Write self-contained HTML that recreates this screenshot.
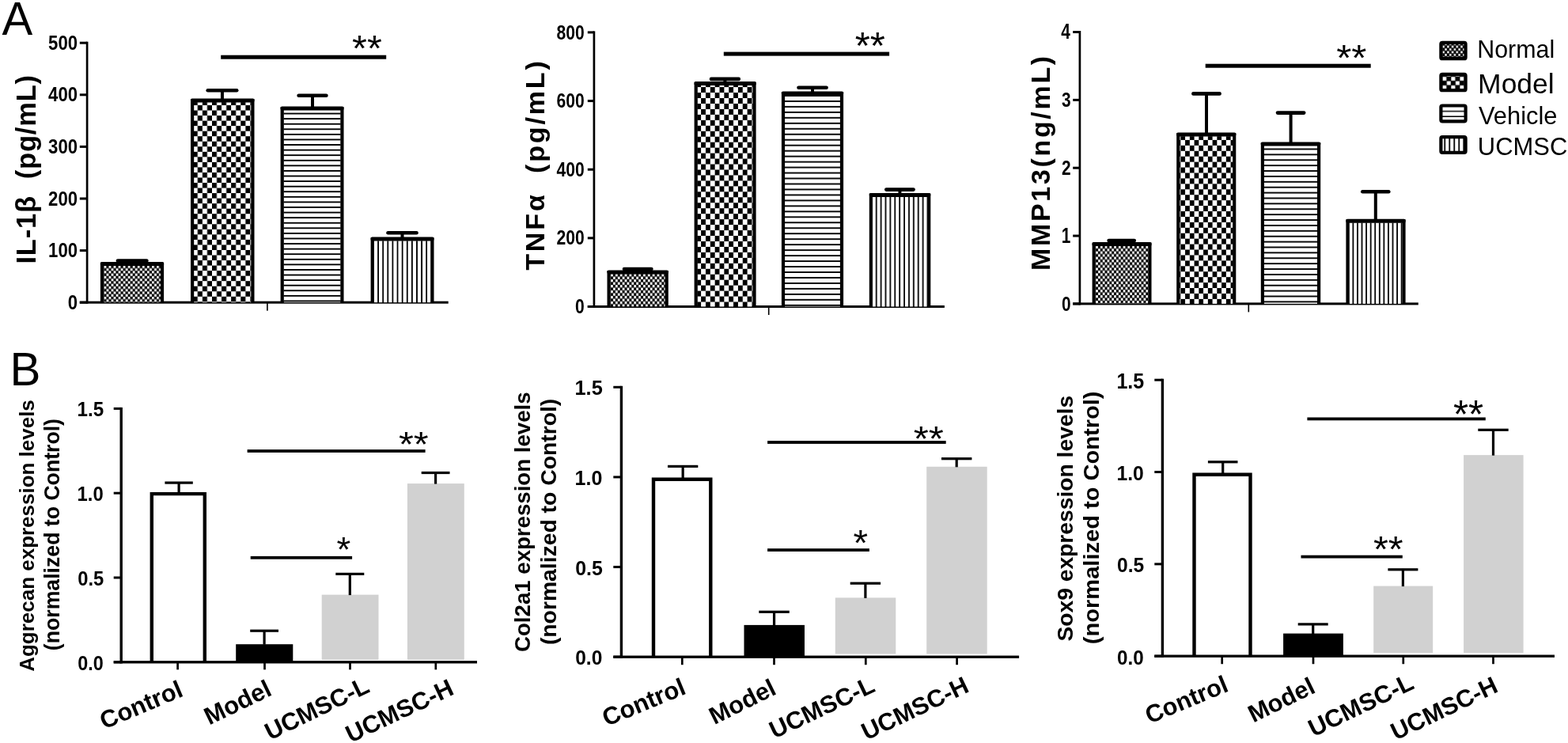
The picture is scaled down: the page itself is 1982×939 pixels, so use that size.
<!DOCTYPE html>
<html lang="en">
<head>
<meta charset="utf-8">
<title>Figure: cytokine levels and cartilage gene expression</title>
<style>
html,body{margin:0;padding:0;background:#fff;}
body{width:1982px;height:939px;overflow:hidden;}
svg{display:block;font-family:"Liberation Sans",Arial,Helvetica,sans-serif;}
svg text{fill:#000;}
</style>
</head>
<body>
<svg width="1982" height="939" viewBox="0 0 1982 939">
<defs>
<pattern id="p1" patternUnits="userSpaceOnUse" x="131.4" y="335.75" width="6.05" height="6.53"><rect width="6.05" height="6.53" fill="#000"/><rect x="0.1" y="0.11" width="2.83" height="3.05" fill="#fff"/><rect x="3.12" y="3.37" width="2.83" height="3.05" fill="#fff"/></pattern>
<pattern id="p2" patternUnits="userSpaceOnUse" x="243.75" y="119.93" width="12.1" height="13.07"><rect width="12.1" height="13.07" fill="#000"/><rect x="0" y="0" width="6.05" height="6.53" fill="#fff"/><rect x="6.05" y="6.53" width="6.05" height="6.53" fill="#fff"/></pattern>
<pattern id="p3" patternUnits="userSpaceOnUse" x="358.5" y="137.92" width="20" height="6.58"><rect width="20" height="6.58" fill="#fff"/><rect y="4.68" width="20" height="1.9" fill="#000"/></pattern>
<pattern id="p4" patternUnits="userSpaceOnUse" x="472.86" y="304.3" width="6.11" height="20"><rect width="6.11" height="20" fill="#fff"/><rect x="4.31" width="1.8" height="20" fill="#000"/></pattern>
<pattern id="p5" patternUnits="userSpaceOnUse" x="772" y="346.05" width="5.85" height="6.96"><rect width="5.85" height="6.96" fill="#000"/><rect x="0.1" y="0.11" width="2.73" height="3.25" fill="#fff"/><rect x="3.02" y="3.59" width="2.73" height="3.25" fill="#fff"/></pattern>
<pattern id="p6" patternUnits="userSpaceOnUse" x="880.26" y="96.18" width="11.7" height="13.92"><rect width="11.7" height="13.92" fill="#000"/><rect x="0" y="0" width="5.85" height="6.96" fill="#fff"/><rect x="5.85" y="6.96" width="5.85" height="6.96" fill="#fff"/></pattern>
<pattern id="p7" patternUnits="userSpaceOnUse" x="991.8" y="114.98" width="20" height="6.97"><rect width="20" height="6.97" fill="#fff"/><rect y="5.07" width="20" height="1.9" fill="#000"/></pattern>
<pattern id="p8" patternUnits="userSpaceOnUse" x="1102.77" y="248.6" width="5.89" height="20"><rect width="5.89" height="20" fill="#fff"/><rect x="4.09" width="1.8" height="20" fill="#000"/></pattern>
<pattern id="p9" patternUnits="userSpaceOnUse" x="1385.1" y="310.65" width="5.75" height="6.93"><rect width="5.75" height="6.93" fill="#000"/><rect x="0.09" y="0.11" width="2.69" height="3.24" fill="#fff"/><rect x="2.97" y="3.58" width="2.69" height="3.24" fill="#fff"/></pattern>
<pattern id="p10" patternUnits="userSpaceOnUse" x="1492.33" y="163.07" width="11.5" height="13.86"><rect width="11.5" height="13.86" fill="#000"/><rect x="0" y="0" width="5.75" height="6.93" fill="#fff"/><rect x="5.75" y="6.93" width="5.75" height="6.93" fill="#fff"/></pattern>
<pattern id="p11" patternUnits="userSpaceOnUse" x="1597.7" y="182.56" width="20" height="6.89"><rect width="20" height="6.89" fill="#fff"/><rect y="4.99" width="20" height="1.9" fill="#000"/></pattern>
<pattern id="p12" patternUnits="userSpaceOnUse" x="1705.73" y="281.4" width="5.57" height="20"><rect width="5.57" height="20" fill="#fff"/><rect x="3.77" width="1.8" height="20" fill="#000"/></pattern>
<pattern id="p13" patternUnits="userSpaceOnUse" x="1823.28" y="57.34" width="5.7" height="6.9"><rect width="5.7" height="6.9" fill="#000"/><rect x="0.2" y="0.35" width="2.45" height="2.75" fill="#fff"/><rect x="3.05" y="3.8" width="2.45" height="2.75" fill="#fff"/></pattern>
<pattern id="p14" patternUnits="userSpaceOnUse" x="1823" y="96.8" width="11.1" height="10.9"><rect width="11.1" height="10.9" fill="#000"/><rect x="0.27" y="0.27" width="5" height="4.9" fill="#fff"/><rect x="5.82" y="5.72" width="5" height="4.9" fill="#fff"/></pattern>
<pattern id="p15" patternUnits="userSpaceOnUse" x="1823.5" y="134.9" width="20" height="6.55"><rect width="20" height="6.55" fill="#fff"/><rect y="5.05" width="20" height="1.5" fill="#000"/></pattern>
<pattern id="p16" patternUnits="userSpaceOnUse" x="1821.2" y="175.3" width="6" height="20"><rect width="6" height="20" fill="#fff"/><rect x="4.2" width="1.8" height="20" fill="#000"/></pattern>
</defs>
<rect width="1982" height="939" fill="#fff"/>
<g>
<text transform="translate(2.4 43.5) scale(0.9865 1)" font-size="58.91">A</text>
<text transform="translate(12.46 486.7) scale(0.9809 1)" font-size="59.49">B</text>
<rect x="108.75" y="52.7" width="2.7" height="331" fill="#000"/>
<rect x="100.8" y="380.7" width="9.3" height="3" fill="#000"/>
<text transform="translate(85.71 390.83) scale(0.8530 1)" font-size="25.96" font-weight="bold">0</text>
<rect x="100.8" y="315.1" width="9.3" height="3" fill="#000"/>
<text transform="translate(61.07 325.23) scale(0.8530 1)" font-size="25.96" font-weight="bold">100</text>
<rect x="100.8" y="249.5" width="9.3" height="3" fill="#000"/>
<text transform="translate(61.07 259.63) scale(0.8530 1)" font-size="25.96" font-weight="bold">200</text>
<rect x="100.8" y="183.9" width="9.3" height="3" fill="#000"/>
<text transform="translate(61.07 194.03) scale(0.8530 1)" font-size="25.96" font-weight="bold">300</text>
<rect x="100.8" y="118.3" width="9.3" height="3" fill="#000"/>
<text transform="translate(61.07 128.43) scale(0.8530 1)" font-size="25.96" font-weight="bold">400</text>
<rect x="100.8" y="52.7" width="9.3" height="3" fill="#000"/>
<text transform="translate(61.07 62.83) scale(0.8530 1)" font-size="25.96" font-weight="bold">500</text>
<rect x="100.8" y="380.7" width="465.9" height="3" fill="#000"/>
<rect x="337.1" y="382.2" width="1.6" height="10.5" fill="#000"/>
<rect x="130.8" y="335.8" width="72.4" height="46.4" fill="url(#p1)"/>
<rect x="126.9" y="331.7" width="4.2" height="50.5" fill="#000"/>
<rect x="202.9" y="331.7" width="4.2" height="50.5" fill="#000"/>
<rect x="126.9" y="331.1" width="80.2" height="5" rx="1.8" fill="#000"/>
<rect x="165.15" y="329.6" width="4" height="2.5" fill="#000"/>
<rect x="146.6" y="327.3" width="41.1" height="4.6" rx="2.3" fill="#000"/>
<rect x="244.9" y="129.1" width="72.7" height="253.1" fill="url(#p2)"/>
<rect x="241" y="125" width="4.2" height="257.2" fill="#000"/>
<rect x="317.3" y="125" width="4.2" height="257.2" fill="#000"/>
<rect x="241" y="124.4" width="80.5" height="5" rx="1.8" fill="#000"/>
<rect x="278.95" y="114.2" width="4" height="11.2" fill="#000"/>
<rect x="260.4" y="111.9" width="41.1" height="4.6" rx="2.3" fill="#000"/>
<rect x="358.5" y="139.2" width="72.1" height="243" fill="url(#p3)"/>
<rect x="354.6" y="135.1" width="4.2" height="247.1" fill="#000"/>
<rect x="430.3" y="135.1" width="4.2" height="247.1" fill="#000"/>
<rect x="354.6" y="134.5" width="79.9" height="5" rx="1.8" fill="#000"/>
<rect x="393" y="120.8" width="4" height="14.7" fill="#000"/>
<rect x="375.3" y="118.5" width="39.4" height="4.6" rx="2.3" fill="#000"/>
<rect x="472.5" y="304.3" width="72.1" height="77.9" fill="url(#p4)"/>
<rect x="468.6" y="300.2" width="4.2" height="82" fill="#000"/>
<rect x="544.3" y="300.2" width="4.2" height="82" fill="#000"/>
<rect x="468.6" y="299.6" width="79.9" height="5" rx="1.8" fill="#000"/>
<rect x="506.5" y="294.2" width="4" height="6.4" fill="#000"/>
<rect x="488.2" y="291.9" width="40.6" height="4.6" rx="2.3" fill="#000"/>
<rect x="279.2" y="69.7" width="209" height="5" fill="#000"/>
<text transform="translate(445.09 77.32) scale(1.0458 1)" font-size="46.29">**</text>
<text transform="translate(45 333.58) rotate(-90)" font-size="34.57" letter-spacing="0.79" font-weight="bold" style="white-space:pre">IL-1β  (pg/mL)</text>
<rect x="749.55" y="39.4" width="2.7" height="349.6" fill="#000"/>
<rect x="742.8" y="386" width="8.1" height="3" fill="#000"/>
<text transform="translate(726.95 396.13) scale(0.8129 1)" font-size="25.96" font-weight="bold">0</text>
<rect x="742.8" y="299.35" width="8.1" height="3" fill="#000"/>
<text transform="translate(703.47 309.48) scale(0.8129 1)" font-size="25.96" font-weight="bold">200</text>
<rect x="742.8" y="212.7" width="8.1" height="3" fill="#000"/>
<text transform="translate(703.47 222.83) scale(0.8129 1)" font-size="25.96" font-weight="bold">400</text>
<rect x="742.8" y="126.05" width="8.1" height="3" fill="#000"/>
<text transform="translate(703.47 136.18) scale(0.8129 1)" font-size="25.96" font-weight="bold">600</text>
<rect x="742.8" y="39.4" width="8.1" height="3" fill="#000"/>
<text transform="translate(703.47 49.53) scale(0.8129 1)" font-size="25.96" font-weight="bold">800</text>
<rect x="742.8" y="386" width="451.1" height="3" fill="#000"/>
<rect x="970.9" y="387.5" width="1.6" height="10.5" fill="#000"/>
<rect x="771.4" y="346.1" width="69.5" height="41.4" fill="url(#p5)"/>
<rect x="767.5" y="342" width="4.2" height="45.5" fill="#000"/>
<rect x="840.6" y="342" width="4.2" height="45.5" fill="#000"/>
<rect x="767.5" y="341.4" width="77.3" height="5" rx="1.8" fill="#000"/>
<rect x="804.2" y="340" width="4" height="2.4" fill="#000"/>
<rect x="786.7" y="337.7" width="39" height="4.6" rx="2.3" fill="#000"/>
<rect x="881.5" y="107.7" width="70.2" height="279.8" fill="url(#p6)"/>
<rect x="877.6" y="103.6" width="4.2" height="283.9" fill="#000"/>
<rect x="951.4" y="103.6" width="4.2" height="283.9" fill="#000"/>
<rect x="877.6" y="103" width="78" height="5" rx="1.8" fill="#000"/>
<rect x="914.4" y="99.9" width="4" height="4.1" fill="#000"/>
<rect x="896.7" y="97.6" width="39.4" height="4.6" rx="2.3" fill="#000"/>
<rect x="991.8" y="120.1" width="70.4" height="267.4" fill="url(#p7)"/>
<rect x="987.9" y="116" width="4.2" height="271.5" fill="#000"/>
<rect x="1061.9" y="116" width="4.2" height="271.5" fill="#000"/>
<rect x="987.9" y="115.4" width="78.2" height="5" rx="1.8" fill="#000"/>
<rect x="1025.05" y="110.8" width="4" height="5.6" fill="#000"/>
<rect x="1007.2" y="108.5" width="39.7" height="4.6" rx="2.3" fill="#000"/>
<rect x="1102.7" y="248.6" width="69.7" height="138.9" fill="url(#p8)"/>
<rect x="1098.8" y="244.5" width="4.2" height="143" fill="#000"/>
<rect x="1172.1" y="244.5" width="4.2" height="143" fill="#000"/>
<rect x="1098.8" y="243.9" width="77.5" height="5" rx="1.8" fill="#000"/>
<rect x="1135.45" y="239.6" width="4" height="5.3" fill="#000"/>
<rect x="1118" y="237.3" width="38.9" height="4.6" rx="2.3" fill="#000"/>
<rect x="914.8" y="65.6" width="209.3" height="5" fill="#000"/>
<text transform="translate(1080.68 74.11) scale(1.0319 1)" font-size="47.43">**</text>
<text transform="translate(687.6 341.73) rotate(-90)" font-size="34.14" letter-spacing="2.76" font-weight="bold" style="white-space:pre">TNFα  (pg/mL)</text>
<rect x="1363.55" y="39" width="2.7" height="346.4" fill="#000"/>
<rect x="1356.2" y="382.4" width="8.7" height="3" fill="#000"/>
<text transform="translate(1341.89 392.53) scale(0.8028 1)" font-size="25.96" font-weight="bold">0</text>
<rect x="1356.2" y="296.55" width="8.7" height="3" fill="#000"/>
<text transform="translate(1341.63 307) scale(0.7746 1)" font-size="26.91" font-weight="bold">1</text>
<rect x="1356.2" y="210.7" width="8.7" height="3" fill="#000"/>
<text transform="translate(1341.89 221.15) scale(0.7887 1)" font-size="26.43" font-weight="bold">2</text>
<rect x="1356.2" y="124.85" width="8.7" height="3" fill="#000"/>
<text transform="translate(1341.89 134.98) scale(0.8028 1)" font-size="25.96" font-weight="bold">3</text>
<rect x="1356.2" y="39" width="8.7" height="3" fill="#000"/>
<text transform="translate(1341.24 49.45) scale(0.7746 1)" font-size="26.91" font-weight="bold">4</text>
<rect x="1356.2" y="382.4" width="436.6" height="3" fill="#000"/>
<rect x="1577.5" y="383.9" width="1.6" height="10.5" fill="#000"/>
<rect x="1384.5" y="310.7" width="67.1" height="73.2" fill="url(#p9)"/>
<rect x="1380.6" y="306.6" width="4.2" height="77.3" fill="#000"/>
<rect x="1451.3" y="306.6" width="4.2" height="77.3" fill="#000"/>
<rect x="1380.6" y="306" width="74.9" height="5" rx="1.8" fill="#000"/>
<rect x="1415.7" y="304" width="4" height="3" fill="#000"/>
<rect x="1399.3" y="301.7" width="36.8" height="4.6" rx="2.3" fill="#000"/>
<rect x="1491.1" y="172.2" width="67.3" height="211.7" fill="url(#p10)"/>
<rect x="1487.2" y="168.1" width="4.2" height="215.8" fill="#000"/>
<rect x="1558.1" y="168.1" width="4.2" height="215.8" fill="#000"/>
<rect x="1487.2" y="167.5" width="75.1" height="5" rx="1.8" fill="#000"/>
<rect x="1523" y="118.4" width="4" height="50.1" fill="#000"/>
<rect x="1506.1" y="116.1" width="37.8" height="4.6" rx="2.3" fill="#000"/>
<rect x="1597.7" y="184.1" width="67.6" height="199.8" fill="url(#p11)"/>
<rect x="1593.8" y="180" width="4.2" height="203.9" fill="#000"/>
<rect x="1665" y="180" width="4.2" height="203.9" fill="#000"/>
<rect x="1593.8" y="179.4" width="75.4" height="5" rx="1.8" fill="#000"/>
<rect x="1629.6" y="142.6" width="4" height="37.8" fill="#000"/>
<rect x="1612.7" y="140.3" width="37.8" height="4.6" rx="2.3" fill="#000"/>
<rect x="1705.3" y="281.4" width="67.4" height="102.5" fill="url(#p12)"/>
<rect x="1701.4" y="277.3" width="4.2" height="106.6" fill="#000"/>
<rect x="1772.4" y="277.3" width="4.2" height="106.6" fill="#000"/>
<rect x="1701.4" y="276.7" width="75.2" height="5" rx="1.8" fill="#000"/>
<rect x="1736.8" y="242.3" width="4" height="35.4" fill="#000"/>
<rect x="1720" y="240" width="37.6" height="4.6" rx="2.3" fill="#000"/>
<rect x="1523.7" y="80.7" width="209" height="5" fill="#000"/>
<text transform="translate(1689.28 89.32) scale(1.0669 1)" font-size="46">**</text>
<text transform="translate(1326.9 341.93) rotate(-90)" font-size="33.86" letter-spacing="2.75" font-weight="bold" style="white-space:pre">MMP13(ng/mL)</text>
<rect x="1821.4" y="53.9" width="31.2" height="20.3" fill="url(#p13)" stroke="#000" stroke-width="4.2" rx="1.8"/>
<text transform="translate(1867.23 73.21) scale(0.9792 1)" font-size="31.05">Normal</text>
<rect x="1821.4" y="93.9" width="31.2" height="20.3" fill="url(#p14)" stroke="#000" stroke-width="4.2" rx="1.8"/>
<text transform="translate(1868.12 117.96) scale(0.9981 1)" font-size="35.53">Model</text>
<rect x="1821.4" y="133.5" width="31.2" height="19.8" fill="url(#p15)" stroke="#000" stroke-width="4.2" rx="1.8"/>
<text transform="translate(1869.01 157.31) scale(0.9802 1)" font-size="31.46">Vehicle</text>
<rect x="1821.4" y="173.2" width="31.2" height="19.6" fill="url(#p16)" stroke="#000" stroke-width="4.2" rx="1.8"/>
<text transform="translate(1867.78 195.9) scale(0.9717 1)" font-size="31.86">UCMSC</text>
<rect x="151.5" y="514.9" width="3.4" height="323.55" fill="#000"/>
<rect x="143.7" y="835.3" width="9.5" height="3" fill="#000"/>
<text transform="translate(98.22 846.63) scale(0.9107 1)" font-size="25.68" font-weight="bold">0.0</text>
<rect x="143.7" y="728.5" width="9.5" height="3" fill="#000"/>
<text transform="translate(98.21 739.83) scale(0.9256 1)" font-size="25.68" font-weight="bold">0.5</text>
<rect x="143.7" y="621.7" width="9.5" height="3" fill="#000"/>
<text transform="translate(97.61 633.03) scale(0.9284 1)" font-size="25.68" font-weight="bold">1.0</text>
<rect x="143.7" y="514.9" width="9.5" height="3" fill="#000"/>
<text transform="translate(97.59 526.22) scale(0.9269 1)" font-size="26.14" font-weight="bold">1.5</text>
<rect x="406.7" y="751.6" width="71.8" height="82.2" fill="#d1d1d1"/>
<rect x="514.9" y="611.1" width="71.9" height="222.7" fill="#d1d1d1"/>
<rect x="298.2" y="814.2" width="72.1" height="22.6" fill="#000"/>
<path d="M191.8 836.8V624.1H258.8V836.8" fill="#fff" stroke="#000" stroke-width="4.4"/>
<rect x="224.5" y="610.1" width="3.2" height="12.3" fill="#000"/>
<rect x="208.4" y="608.5" width="35.4" height="3.2" fill="#000"/>
<rect x="332.5" y="797.2" width="3.2" height="17.5" fill="#000"/>
<rect x="316.2" y="795.6" width="35.8" height="3.2" fill="#000"/>
<rect x="440.7" y="725.4" width="3.2" height="26.7" fill="#000"/>
<rect x="424.3" y="723.8" width="36" height="3.2" fill="#000"/>
<rect x="549" y="597.5" width="3.2" height="14.1" fill="#000"/>
<rect x="532.7" y="595.9" width="35.8" height="3.2" fill="#000"/>
<rect x="143.7" y="835.15" width="459.3" height="3.3" fill="#000"/>
<rect x="223.25" y="836.8" width="2.7" height="9.5" fill="#000"/>
<rect x="333.15" y="836.8" width="2.7" height="9.5" fill="#000"/>
<rect x="441.15" y="836.8" width="2.7" height="9.5" fill="#000"/>
<rect x="549.45" y="836.8" width="2.7" height="9.5" fill="#000"/>
<rect x="312.6" y="568.1" width="225" height="3.8" fill="#000"/>
<rect x="316.7" y="702.9" width="128.4" height="3.8" fill="#000"/>
<text transform="translate(503.89 576.74) scale(1.0722 1)" font-size="45.14">**</text>
<text transform="translate(425.45 709.94) scale(1.0202 1)" font-size="44.57">*</text>
<text transform="translate(43.09 848.75) rotate(-90) scale(1 0.9975)" font-size="25.99" font-weight="bold">Aggrecan expression levels</text>
<text transform="translate(74.79 822.13) rotate(-90) scale(1 1.0029)" font-size="26.66" font-weight="bold">(normalized to Control)</text>
<text transform="translate(131.85 922.08) rotate(-23)" font-size="30.95" font-weight="bold">Control</text>
<text transform="translate(264.38 916.73) rotate(-25.75)" font-size="31.12" font-weight="bold">Model</text>
<text transform="translate(341.16 936.04) rotate(-26)" font-size="30.85" font-weight="bold">UCMSC-L</text>
<text transform="translate(443.24 939.13) rotate(-25.25)" font-size="30.97" font-weight="bold">UCMSC-H</text>
<rect x="783.7" y="487.8" width="3.4" height="344.05" fill="#000"/>
<rect x="775.3" y="828.7" width="10.1" height="3" fill="#000"/>
<text transform="translate(727.18 840.27) scale(0.9398 1)" font-size="26.11" font-weight="bold">0.0</text>
<rect x="775.3" y="715.07" width="10.1" height="3" fill="#000"/>
<text transform="translate(727.17 726.64) scale(0.9540 1)" font-size="26.11" font-weight="bold">0.5</text>
<rect x="775.3" y="601.43" width="10.1" height="3" fill="#000"/>
<text transform="translate(726.54 613.01) scale(0.9580 1)" font-size="26.11" font-weight="bold">1.0</text>
<rect x="775.3" y="487.8" width="10.1" height="3" fill="#000"/>
<text transform="translate(726.51 499.37) scale(0.9553 1)" font-size="26.57" font-weight="bold">1.5</text>
<rect x="1055.8" y="755.4" width="76.5" height="71.1" fill="#d1d1d1"/>
<rect x="1171.2" y="589.8" width="76.5" height="236.7" fill="#d1d1d1"/>
<rect x="940.5" y="789.9" width="76.5" height="40.3" fill="#000"/>
<path d="M826 830.2V605.8H898.3V830.2" fill="#fff" stroke="#000" stroke-width="4.4"/>
<rect x="861.55" y="589.4" width="3.2" height="14.7" fill="#000"/>
<rect x="844" y="587.8" width="38.3" height="3.2" fill="#000"/>
<rect x="976.95" y="773.3" width="3.2" height="17.1" fill="#000"/>
<rect x="959.3" y="771.7" width="38.5" height="3.2" fill="#000"/>
<rect x="1092.3" y="737.2" width="3.2" height="18.7" fill="#000"/>
<rect x="1074.7" y="735.6" width="38.4" height="3.2" fill="#000"/>
<rect x="1207.6" y="579.7" width="3.2" height="10.6" fill="#000"/>
<rect x="1190" y="578.1" width="38.4" height="3.2" fill="#000"/>
<rect x="775.3" y="828.55" width="512.8" height="3.3" fill="#000"/>
<rect x="860.95" y="830.2" width="2.7" height="10" fill="#000"/>
<rect x="977.15" y="830.2" width="2.7" height="10" fill="#000"/>
<rect x="1092.95" y="830.2" width="2.7" height="10" fill="#000"/>
<rect x="1208.25" y="830.2" width="2.7" height="10" fill="#000"/>
<rect x="970.1" y="557.1" width="225.6" height="3.8" fill="#000"/>
<rect x="970.1" y="693.2" width="128.8" height="3.8" fill="#000"/>
<text transform="translate(1154.68 569.54) scale(1.0910 1)" font-size="44.86">**</text>
<text transform="translate(1078.41 702.22) scale(1.0310 1)" font-size="46.29">*</text>
<text transform="translate(669.68 823.94) rotate(-90) scale(1 1.0223)" font-size="27.63" font-weight="bold">Col2a1 expression levels</text>
<text transform="translate(703.48 815.12) rotate(-90) scale(1 0.9969)" font-size="28.33" font-weight="bold">(normalized to Control)</text>
<text transform="translate(766.78 918.37) rotate(-22.5)" font-size="31.06" font-weight="bold">Control</text>
<text transform="translate(903.03 916.21) rotate(-26.5)" font-size="30.93" font-weight="bold">Model</text>
<text transform="translate(978.84 934.09) rotate(-25.25)" font-size="30.92" font-weight="bold">UCMSC-L</text>
<text transform="translate(1095.21 936.11) rotate(-25.5)" font-size="30.83" font-weight="bold">UCMSC-H</text>
<rect x="1467.7" y="478.7" width="3.4" height="352.15" fill="#000"/>
<rect x="1459.3" y="827.7" width="10.1" height="3" fill="#000"/>
<text transform="translate(1412.09 839.67) scale(0.9086 1)" font-size="26.67" font-weight="bold">0.0</text>
<rect x="1459.3" y="711.37" width="10.1" height="3" fill="#000"/>
<text transform="translate(1412.08 723.33) scale(0.9226 1)" font-size="26.67" font-weight="bold">0.5</text>
<rect x="1459.3" y="595.03" width="10.1" height="3" fill="#000"/>
<text transform="translate(1411.46 607) scale(0.9262 1)" font-size="26.67" font-weight="bold">1.0</text>
<rect x="1459.3" y="478.7" width="10.1" height="3" fill="#000"/>
<text transform="translate(1411.43 490.66) scale(0.9239 1)" font-size="27.14" font-weight="bold">1.5</text>
<rect x="1736.2" y="740.6" width="75" height="84.6" fill="#d1d1d1"/>
<rect x="1850.1" y="575.1" width="75.5" height="250.1" fill="#d1d1d1"/>
<rect x="1622.1" y="800.6" width="75.8" height="28.6" fill="#000"/>
<path d="M1509.5 829.2V599.7H1580.5V829.2" fill="#fff" stroke="#000" stroke-width="4.4"/>
<rect x="1544.1" y="583.8" width="3.2" height="14.2" fill="#000"/>
<rect x="1526.9" y="582.2" width="37.6" height="3.2" fill="#000"/>
<rect x="1658.1" y="788.9" width="3.2" height="12.2" fill="#000"/>
<rect x="1640.7" y="787.3" width="38" height="3.2" fill="#000"/>
<rect x="1771.8" y="719.8" width="3.2" height="21.3" fill="#000"/>
<rect x="1754.4" y="718.2" width="38" height="3.2" fill="#000"/>
<rect x="1885.9" y="543.3" width="3.2" height="32.3" fill="#000"/>
<rect x="1868.3" y="541.7" width="38.4" height="3.2" fill="#000"/>
<rect x="1459.3" y="827.55" width="505.7" height="3.3" fill="#000"/>
<rect x="1543.35" y="829.2" width="2.7" height="10" fill="#000"/>
<rect x="1658.65" y="829.2" width="2.7" height="10" fill="#000"/>
<rect x="1772.45" y="829.2" width="2.7" height="10" fill="#000"/>
<rect x="1886.15" y="829.2" width="2.7" height="10" fill="#000"/>
<rect x="1652.4" y="527.5" width="225.4" height="3.8" fill="#000"/>
<rect x="1644.5" y="701.7" width="128.3" height="3.8" fill="#000"/>
<text transform="translate(1836.98 540.69) scale(0.9986 1)" font-size="49.14">**</text>
<text transform="translate(1735.89 709.72) scale(1.0458 1)" font-size="46.29">**</text>
<text transform="translate(1355.91 810.58) rotate(-90) scale(1 0.9772)" font-size="28.24" font-weight="bold">Sox9 expression levels</text>
<text transform="translate(1388.86 814.15) rotate(-90) scale(1 0.9566)" font-size="29.07" font-weight="bold">(normalized to Control)</text>
<text transform="translate(1452.94 915) rotate(-22.5)" font-size="30.9" font-weight="bold">Control</text>
<text transform="translate(1584.24 913.87) rotate(-26.25)" font-size="30.94" font-weight="bold">Model</text>
<text transform="translate(1660.13 931.64) rotate(-25.75)" font-size="31.09" font-weight="bold">UCMSC-L</text>
<text transform="translate(1764.3 936.05) rotate(-25.5)" font-size="30.78" font-weight="bold">UCMSC-H</text>
</g>
</svg>
</body>
</html>
